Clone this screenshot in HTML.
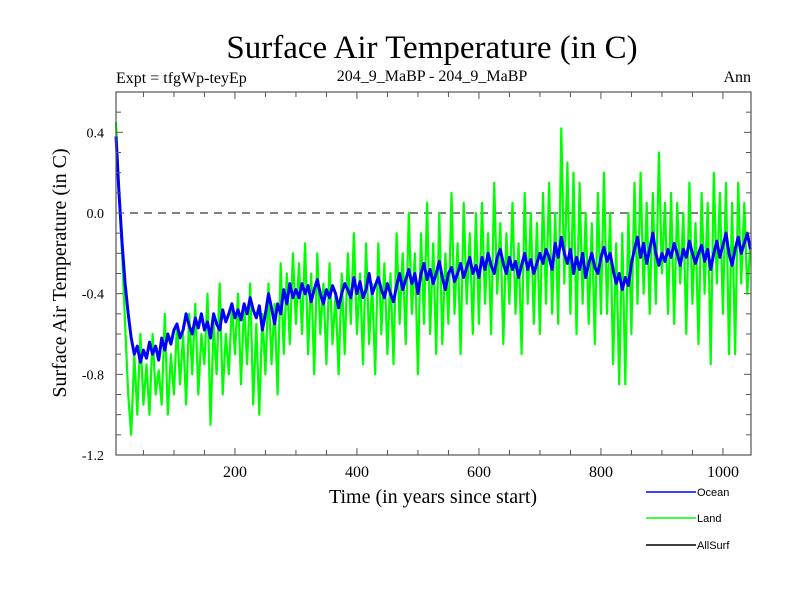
<!DOCTYPE html>
<html><head><meta charset="utf-8"><style>
body{margin:0;background:#fff}
svg{display:block;font-family:"Liberation Serif",serif}
</style></head><body>
<svg id="chart" width="800" height="600">
<rect width="800" height="600" fill="#fff"/>
<text x="432" y="58" font-size="33" text-anchor="middle">Surface Air Temperature (in C)</text>
<text x="116" y="83" font-size="16">Expt = tfgWp-teyEp</text>
<text x="432" y="81" font-size="16" text-anchor="middle">204_9_MaBP - 204_9_MaBP</text>
<text x="751" y="82" font-size="16" text-anchor="end">Ann</text>
<g id="plot"></g>
<text x="433" y="503" font-size="20" text-anchor="middle">Time (in years since start)</text>
<text transform="translate(66,273) rotate(-90)" font-size="20" text-anchor="middle">Surface Air Temperature (in C)</text>
<g font-family="Liberation Sans, sans-serif" font-size="11">
<g><line x1="646" y1="492" x2="696" y2="492" stroke="#0000ff" stroke-width="1.5"/><text x="697" y="496">Ocean</text></g>
<g><line x1="646" y1="518" x2="696" y2="518" stroke="#00ff00" stroke-width="1.5"/><text x="697" y="522">Land</text></g>
<g><line x1="646" y1="545" x2="696" y2="545" stroke="#000" stroke-width="1.5"/><text x="697" y="549">AllSurf</text></g>
</g>
</svg>
<script>
const xTicks=[200,400,600,800,1000];
const yTicks=[-1.2,-0.8,-0.4,0.0,0.4];
const yTickLabels=["-1.2","-0.8","-0.4","0.0","0.4"];
const oceanStart=5, oceanStep=5;
const ocean=[0.38,0.1,-0.15,-0.35,-0.5,-0.62,-0.7,-0.66,-0.74,-0.68,-0.72,-0.64,-0.7,-0.66,-0.73,-0.62,-0.68,-0.6,-0.65,-0.58,
-0.55,-0.62,-0.58,-0.5,-0.56,-0.6,-0.52,-0.57,-0.5,-0.58,-0.54,-0.62,-0.5,-0.55,-0.58,-0.48,-0.54,-0.5,-0.45,-0.52,
-0.48,-0.53,-0.45,-0.5,-0.42,-0.48,-0.52,-0.46,-0.58,-0.5,-0.4,-0.47,-0.55,-0.45,-0.5,-0.38,-0.45,-0.35,-0.42,-0.38,
-0.42,-0.35,-0.4,-0.36,-0.44,-0.38,-0.33,-0.4,-0.45,-0.38,-0.42,-0.36,-0.4,-0.47,-0.4,-0.35,-0.38,-0.42,-0.32,-0.4,
-0.34,-0.42,-0.38,-0.3,-0.4,-0.36,-0.32,-0.38,-0.42,-0.35,-0.4,-0.44,-0.36,-0.3,-0.38,-0.33,-0.28,-0.35,-0.3,-0.4,
-0.3,-0.25,-0.33,-0.28,-0.35,-0.3,-0.24,-0.32,-0.38,-0.3,-0.27,-0.34,-0.3,-0.25,-0.32,-0.27,-0.22,-0.3,-0.26,-0.32,
-0.22,-0.28,-0.2,-0.26,-0.3,-0.22,-0.18,-0.25,-0.3,-0.22,-0.28,-0.24,-0.32,-0.26,-0.2,-0.28,-0.23,-0.3,-0.25,-0.2,
-0.25,-0.18,-0.22,-0.28,-0.15,-0.22,-0.12,-0.2,-0.25,-0.18,-0.3,-0.22,-0.28,-0.2,-0.32,-0.25,-0.2,-0.27,-0.3,-0.22,
-0.17,-0.24,-0.2,-0.28,-0.35,-0.3,-0.38,-0.32,-0.36,-0.25,-0.18,-0.12,-0.22,-0.15,-0.25,-0.18,-0.1,-0.2,-0.26,-0.2,
-0.24,-0.18,-0.22,-0.15,-0.2,-0.26,-0.18,-0.22,-0.14,-0.2,-0.25,-0.2,-0.16,-0.24,-0.18,-0.28,-0.2,-0.14,-0.22,-0.16,
-0.1,-0.2,-0.26,-0.18,-0.12,-0.2,-0.15,-0.1,-0.18];
const landStart=5, landStep=5;
const land=[0.45,0.1,-0.2,-0.55,-0.9,-1.1,-0.7,-1.0,-0.6,-0.95,-0.75,-1.0,-0.6,-0.9,-0.78,-0.95,-0.5,-1.0,-0.7,-0.9,
-0.55,-0.85,-0.6,-0.95,-0.5,-0.8,-0.45,-0.9,-0.6,-0.75,-0.4,-1.05,-0.55,-0.8,-0.35,-0.9,-0.6,-0.8,-0.45,-0.7,
-0.4,-0.85,-0.45,-0.75,-0.35,-0.95,-0.55,-1.0,-0.5,-0.8,-0.35,-0.75,-0.45,-0.9,-0.25,-0.7,-0.3,-0.65,-0.2,-0.55,
-0.25,-0.6,-0.15,-0.7,-0.3,-0.8,-0.2,-0.6,-0.35,-0.75,-0.25,-0.65,-0.4,-0.8,-0.3,-0.7,-0.2,-0.55,-0.1,-0.6,
-0.3,-0.75,-0.15,-0.65,-0.35,-0.8,-0.15,-0.6,-0.25,-0.7,-0.3,-0.75,-0.1,-0.55,-0.2,-0.65,0.0,-0.5,-0.2,-0.8,
-0.1,-0.55,0.05,-0.6,-0.15,-0.7,0.0,-0.65,-0.2,-0.55,0.1,-0.5,-0.15,-0.7,0.05,-0.45,-0.1,-0.6,0.0,-0.55,
0.05,-0.45,-0.1,-0.6,0.15,-0.4,-0.05,-0.65,-0.1,-0.45,0.05,-0.5,-0.15,-0.7,0.1,-0.45,0.0,-0.55,-0.05,-0.6,
0.1,-0.45,0.15,-0.5,0.0,-0.55,0.42,-0.35,0.25,-0.5,0.2,-0.6,0.15,-0.45,0.0,-0.55,-0.05,-0.65,0.1,-0.5,
0.2,-0.5,0.0,-0.75,-0.15,-0.85,-0.1,-0.85,0.0,-0.6,0.15,-0.45,0.2,-0.4,0.05,-0.5,0.1,-0.45,0.3,-0.3,
0.05,-0.5,0.1,-0.55,0.05,-0.35,0.0,-0.6,0.15,-0.45,-0.05,-0.65,0.1,-0.4,0.05,-0.75,0.2,-0.35,0.1,-0.5,
0.15,-0.7,0.05,-0.7,0.15,-0.35,0.05,-0.4,-0.15];

const L=116,R=751,T=92,B=455,XMIN=5,XMAX=1046,YMIN=-1.2,YMAX=0.6;
const xs=v=>L+(v-XMIN)/(XMAX-XMIN)*(R-L);
const ys=v=>B-(v-YMIN)/(YMAX-YMIN)*(B-T);
const NS="http://www.w3.org/2000/svg";
const g=document.getElementById('plot');
function mk(t,a){const e=document.createElementNS(NS,t);for(const k in a)e.setAttribute(k,a[k]);g.appendChild(e);return e;}

const z=mk('line',{x1:L,x2:R,y1:ys(0),y2:ys(0),stroke:'#000','stroke-dasharray':'8,6','stroke-width':1});



function series(arr,start,step,color,w,name){
  const pts=arr.map((v,i)=>xs(start+i*step).toFixed(1)+','+ys(v).toFixed(1)).join(' ');
  const p=mk('polyline',{points:pts,fill:'none',stroke:color,'stroke-width':w,'stroke-linejoin':'round'});
  
  
}
series(land,landStart,landStep,'#00ff00',2.2,'land-line');
series(ocean,oceanStart,oceanStep,'#0000ff',3,'ocean-line');

const f=mk('rect',{x:L,y:T,width:R-L,height:B-T,fill:'none',stroke:'#555','stroke-width':1.2});



for(let v=50;v<XMAX;v+=50){
  const x=xs(v),len=(v%200===0)?7:5;
  mk('line',{x1:x,x2:x,y1:B,y2:B-len,stroke:'#555'});
  mk('line',{x1:x,x2:x,y1:T,y2:T+len,stroke:'#555'});
}
xTicks.forEach(v=>{
  const t=mk('text',{x:xs(v),y:B+22,'font-size':16,'text-anchor':'middle'});
  t.textContent=v;
  
  
});
for(let k=-12;k<=6;k++){
  const v=k/10,y=ys(v),len=(k%4===0)?7:5;
  mk('line',{x1:L,x2:L+len,y1:y,y2:y,stroke:'#555'});
  mk('line',{x1:R,x2:R-len,y1:y,y2:y,stroke:'#555'});
}
yTicks.forEach((v,i)=>{
  const t=mk('text',{x:L-12,y:ys(v)+5,'font-size':14,'text-anchor':'end'});
  t.textContent=yTickLabels[i];
  
  
});
</script>
</body></html>
